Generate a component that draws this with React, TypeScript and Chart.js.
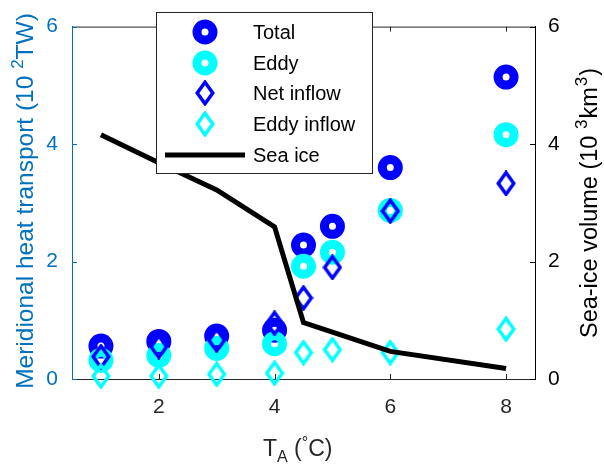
import React, { useEffect, useRef } from 'react';
import { Chart, registerables } from 'chart.js';
Chart.register(...registerables);

const tempA = [1, 2, 3, 4, 4.5, 5, 6, 8];
const totalTransport = [0.56, 0.64, 0.73, 0.83, 2.28, 2.6, 3.6, 5.14];
const eddyTransport = [0.32, 0.4, 0.52, 0.6, 1.92, 2.16, 2.87, 4.16];
const netInflow = [0.38, 0.55, 0.66, 0.95, 1.38, 1.9, 2.86, 3.33];
const eddyInflow = [0.05, 0.05, 0.08, 0.1, 0.45, 0.5, 0.45, 0.85];
const seaIceVolume = [4.16, 3.68, 3.22, 2.59, 0.96, 0.8, 0.47, 0.18];
const xTicks = [2, 4, 6, 8];
const yTicks = [0, 2, 4, 6];
const legendLabels = ['Total', 'Eddy', 'Net inflow', 'Eddy inflow', 'Sea ice'];

const FONT = '"Liberation Sans", Arial, sans-serif';
const BLUE = '#0000FF';
const CYAN = '#00FFFF';
const AXBLUE = '#0072BD';

function makeDiamond(color: string) {
  const c = document.createElement('canvas');
  const w = 20, h = 26, lw = 3.5;
  c.width = w; c.height = h;
  const ctx = c.getContext('2d')!;
  ctx.strokeStyle = color;
  ctx.lineWidth = lw;
  ctx.lineJoin = 'miter';
  ctx.beginPath();
  ctx.moveTo(w / 2, lw / 2 + 0.5);
  ctx.lineTo(w - lw / 2 - 0.5, h / 2);
  ctx.lineTo(w / 2, h - lw / 2 - 0.5);
  ctx.lineTo(lw / 2 + 0.5, h / 2);
  ctx.closePath();
  ctx.stroke();
  return c;
}

type Seg = { t: string; s: number; dy: number; gap?: number };
function drawSegs(ctx: CanvasRenderingContext2D, segs: Seg[], x: number, y: number, center: boolean) {
  let total = 0;
  for (const g of segs) { ctx.font = `${g.s}px ${FONT}`; total += ctx.measureText(g.t).width + (g.gap || 0); }
  let cx = center ? x - total / 2 : x;
  ctx.textBaseline = 'alphabetic';
  ctx.textAlign = 'left';
  for (const g of segs) {
    ctx.font = `${g.s}px ${FONT}`;
    ctx.fillText(g.t, cx, y + g.dy);
    cx += ctx.measureText(g.t).width + (g.gap || 0);
  }
}

export default function App() {
  const ref = useRef<HTMLCanvasElement>(null);
  useEffect(() => {
    document.body.style.margin = '0';
    const dBlue = makeDiamond(BLUE);
    const dCyan = makeDiamond(CYAN);
    const pts = (ys: number[]) => tempA.map((x, i) => ({ x, y: ys[i] }));

    const decor = {
      id: 'decor',
      afterDraw(chart: any) {
        const { ctx, chartArea: a, scales } = chart;
        const sx = scales.x, sy = scales.y, sy2 = scales.y2;
        ctx.save();
        // top border
        ctx.strokeStyle = '#262626';
        ctx.lineWidth = 1;
        ctx.beginPath();
        ctx.moveTo(a.left, a.top + 0.5);
        ctx.lineTo(a.right, a.top + 0.5);
        ctx.stroke();
        // inward ticks
        const tl = 5;
        for (const v of xTicks) {
          const px = Math.round(sx.getPixelForValue(v)) + 0.5;
          ctx.beginPath();
          ctx.moveTo(px, a.bottom); ctx.lineTo(px, a.bottom - tl);
          ctx.moveTo(px, a.top); ctx.lineTo(px, a.top + tl);
          ctx.stroke();
        }
        ctx.strokeStyle = AXBLUE;
        for (const v of yTicks) {
          const py = Math.round(sy.getPixelForValue(v)) + 0.5;
          ctx.beginPath(); ctx.moveTo(a.left, py); ctx.lineTo(a.left + tl, py); ctx.stroke();
        }
        ctx.strokeStyle = '#000';
        for (const v of yTicks) {
          const py = Math.round(sy2.getPixelForValue(v)) + 0.5;
          ctx.beginPath(); ctx.moveTo(a.right, py); ctx.lineTo(a.right - tl, py); ctx.stroke();
        }

        // axis titles
        ctx.fillStyle = AXBLUE;
        ctx.save();
        ctx.translate(33, 201);
        ctx.rotate(-Math.PI / 2);
        drawSegs(ctx, [
          { t: 'Meridional heat transport (10 ', s: 24.5, dy: 0 },
          { t: '2', s: 17, dy: -10 },
          { t: 'TW)', s: 24.5, dy: 0 },
        ], 0, 0, true);
        ctx.restore();

        ctx.fillStyle = '#000';
        ctx.save();
        ctx.translate(597, 203);
        ctx.rotate(-Math.PI / 2);
        drawSegs(ctx, [
          { t: 'Sea-ice volume (10 ', s: 23.5, dy: 0 },
          { t: '3', s: 17, dy: -10, gap: 1 },
          { t: 'km', s: 23.5, dy: 0, gap: 1 },
          { t: '3', s: 17, dy: -10, gap: 1 },
          { t: ')', s: 23.5, dy: 0 },
        ], 0, 0, true);
        ctx.restore();

        ctx.fillStyle = '#262626';
        drawSegs(ctx, [
          { t: 'T', s: 23, dy: 0 },
          { t: 'A', s: 16, dy: 6 },
          { t: ' (', s: 23, dy: 0 },
          { t: '\u00B0', s: 16, dy: -8 },
          { t: 'C)', s: 23, dy: 0 },
        ], 263, 456, false);

        // legend
        const L = 156, T = 12, R = 372, B = 173;
        ctx.fillStyle = '#fff';
        ctx.fillRect(L, T, R - L, B - T);
        ctx.strokeStyle = '#262626';
        ctx.lineWidth = 1;
        ctx.strokeRect(L + 0.5, T + 0.5, R - L, B - T);
        const rows = [32, 63, 93, 124, 155];
        const mx = 205, tx = 253;
        ctx.lineWidth = 9;
        ctx.strokeStyle = BLUE;
        ctx.beginPath(); ctx.arc(mx, rows[0], 8, 0, Math.PI * 2); ctx.stroke();
        ctx.strokeStyle = CYAN;
        ctx.beginPath(); ctx.arc(mx, rows[1], 8, 0, Math.PI * 2); ctx.stroke();
        ctx.drawImage(dBlue, mx - dBlue.width / 2, rows[2] - dBlue.height / 2);
        ctx.drawImage(dCyan, mx - dCyan.width / 2, rows[3] - dCyan.height / 2);
        ctx.strokeStyle = '#000';
        ctx.lineWidth = 5;
        ctx.beginPath(); ctx.moveTo(165, rows[4]); ctx.lineTo(245, rows[4]); ctx.stroke();
        ctx.fillStyle = '#000';
        ctx.font = `20px ${FONT}`;
        ctx.textAlign = 'left';
        ctx.textBaseline = 'middle';
        legendLabels.forEach((t, i) => ctx.fillText(t, tx, rows[i] + 1));
        ctx.restore();
      },
    };

    const tickFont = { family: FONT, size: 21 };
    const chart = new Chart(ref.current!, {
      type: 'scatter',
      data: {
        datasets: [
          {
            label: legendLabels[4], data: pts(seaIceVolume), yAxisID: 'y2', showLine: true,
            borderColor: '#000', borderWidth: 5, pointRadius: 0, order: 0, clip: false as any,
          },
          {
            label: legendLabels[3], data: pts(eddyInflow), yAxisID: 'y', pointStyle: dCyan as any,
            order: 1, clip: false as any, borderColor: CYAN, backgroundColor: 'rgba(0,0,0,0)',
          },
          {
            label: legendLabels[2], data: pts(netInflow), yAxisID: 'y', pointStyle: dBlue as any,
            order: 2, clip: false as any, borderColor: BLUE, backgroundColor: 'rgba(0,0,0,0)',
          },
          {
            label: legendLabels[1], data: pts(eddyTransport), yAxisID: 'y', pointStyle: 'circle',
            pointRadius: 8, pointBorderWidth: 9, borderColor: CYAN, backgroundColor: 'rgba(0,0,0,0)',
            order: 3, clip: false as any,
          },
          {
            label: legendLabels[0], data: pts(totalTransport), yAxisID: 'y', pointStyle: 'circle',
            pointRadius: 8, pointBorderWidth: 9, borderColor: BLUE, backgroundColor: 'rgba(0,0,0,0)',
            order: 4, clip: false as any,
          },
        ],
      },
      options: {
        animation: false,
        responsive: false,
        maintainAspectRatio: false,
        layout: { padding: { top: 21, left: 0, right: 0, bottom: 0 } },
        plugins: { legend: { display: false }, tooltip: { enabled: false } },
        scales: {
          x: {
            type: 'linear', position: 'bottom', min: 0.5, max: 8.5,
            afterBuildTicks: (s: any) => { s.ticks = xTicks.map((v) => ({ value: v })); },
            afterFit: (s: any) => { s.height = 86; },
            grid: { display: false, drawTicks: false },
            border: { display: true, color: '#262626', width: 1 },
            ticks: { font: tickFont, color: '#262626', padding: 16 },
          },
          y: {
            type: 'linear', position: 'left', min: 0, max: 6,
            afterBuildTicks: (s: any) => { s.ticks = yTicks.map((v) => ({ value: v })); },
            afterFit: (s: any) => { s.width = 72; },
            grid: { display: false, drawTicks: false },
            border: { display: true, color: AXBLUE, width: 1 },
            ticks: { font: tickFont, color: AXBLUE, padding: 14 },
          },
          y2: {
            type: 'linear', position: 'right', min: 0, max: 6,
            afterBuildTicks: (s: any) => { s.ticks = yTicks.map((v) => ({ value: v })); },
            afterFit: (s: any) => { s.width = 69; },
            grid: { display: false, drawTicks: false },
            border: { display: true, color: '#000', width: 1 },
            ticks: { font: tickFont, color: '#000', padding: 13 },
          },
        },
      },
      plugins: [decor],
    });
    return () => chart.destroy();
  }, []);
  return (
    <div style={{ width: 604, height: 465 }}>
      <canvas ref={ref} width={604} height={465} />
    </div>
  );
}
